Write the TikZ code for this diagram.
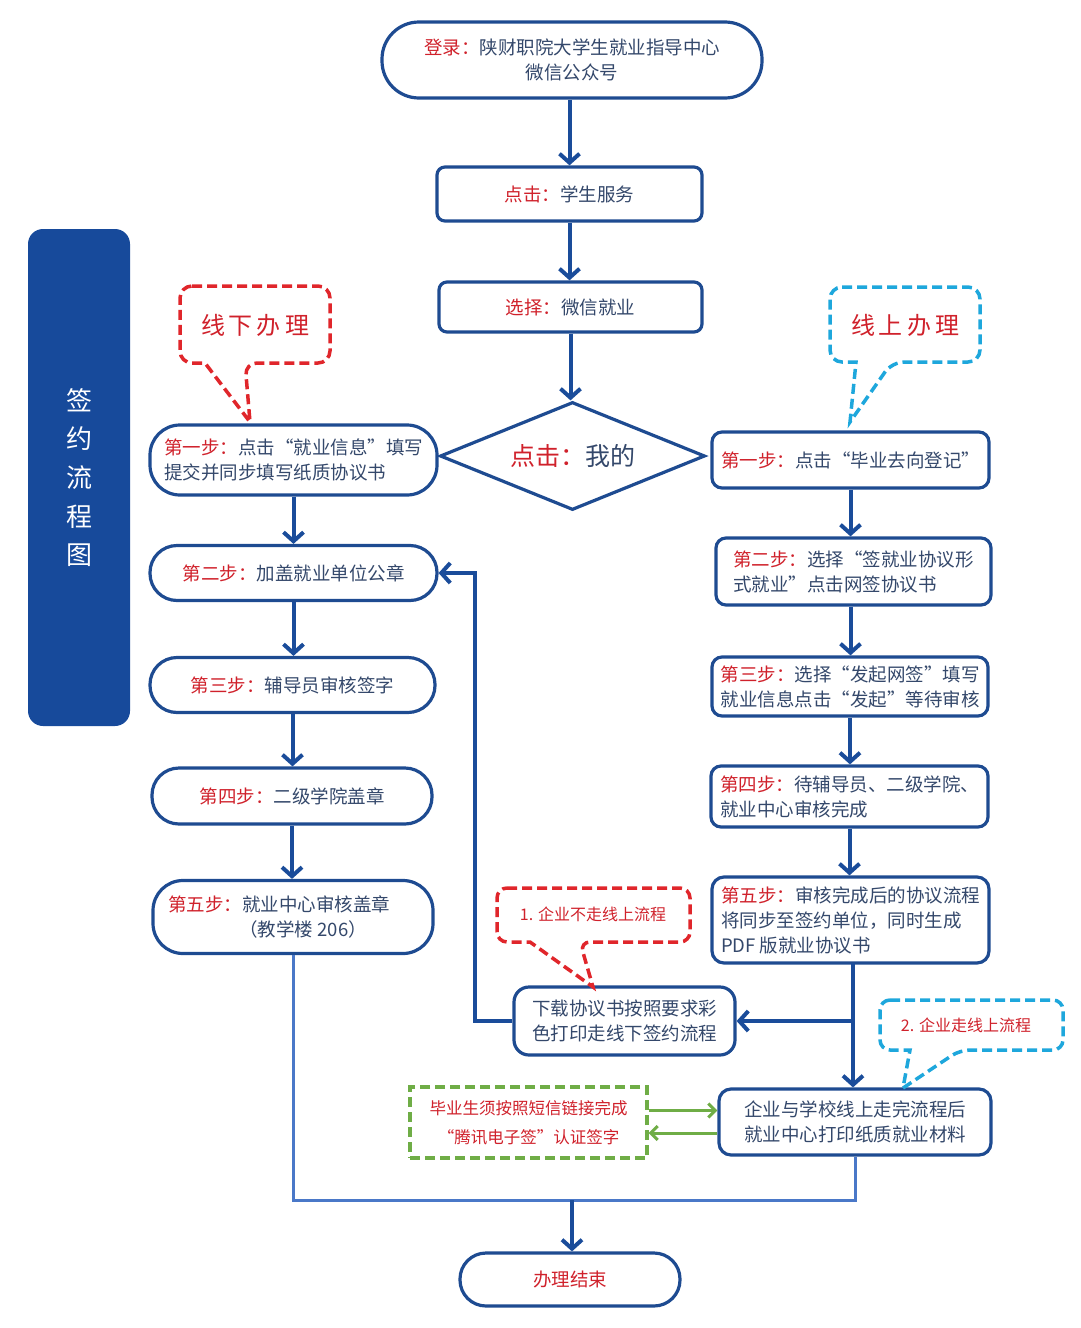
\documentclass[tikz,border=0pt]{standalone}
\usepackage{fontspec}
\setmainfont{Noto Sans CJK SC}
\usetikzlibrary{shapes.geometric,arrows.meta}
\definecolor{boxblue}{HTML}{1E4B91}
\definecolor{arrblue}{HTML}{1A4C9A}
\definecolor{lineblue}{HTML}{4A78C8}
\definecolor{sideblue}{HTML}{174A9B}
\definecolor{tred}{HTML}{D0212B}
\definecolor{tdark}{HTML}{34486B}
\definecolor{dashred}{HTML}{E0262B}
\definecolor{dashcyan}{HTML}{1EA7DC}
\definecolor{dgreen}{HTML}{6FAD46}
\newcommand\R[1]{\textcolor{tred}{#1}}
\begin{document}
\begin{tikzpicture}[x=1pt,y=-1pt,
  box/.style={draw=boxblue, line width=3.2pt, fill=white, text=tdark, inner sep=0pt,
    align=center, font=\fontsize{18.5}{25}\selectfont},
  lbox/.style={box, align=left},
  arr/.style={draw=arrblue, line width=4pt, -{Straight Barb[length=9pt,width=20pt]}},
  garr/.style={draw=dgreen, line width=3pt, -{Straight Barb[length=7pt,width=14pt]}},
  collect/.style={draw=lineblue, line width=3pt},
  callred/.style={draw=dashred, line width=3.5pt, dash pattern=on 10pt off 5pt, fill=white},
  callcyan/.style={draw=dashcyan, line width=3.5pt, dash pattern=on 10pt off 5pt, fill=white},
  calltext/.style={text=tred, inner sep=0pt}
]
\useasboundingbox (0,0) rectangle (1080,1328);

% side bar
\node[fill=sideblue, rounded corners=15pt, minimum width=102pt, minimum height=497pt,
  text=white, align=center, inner sep=0pt, font=\fontsize{26}{38.7}\selectfont]
  (side) at (79,477.5) {签\\约\\流\\程\\图};

% central column
\node[box, minimum width=380pt, minimum height=76pt, rounded corners=37pt] (top) at (572,60)
  {\R{登录：}陕财职院大学生就业指导中心\\微信公众号};
\node[box, minimum width=265pt, minimum height=54pt, rounded corners=8pt] (s1) at (569.5,194)
  {\R{点击：}学生服务};
\node[box, minimum width=263pt, minimum height=50pt, rounded corners=8pt] (s2) at (570.5,307)
  {\R{选择：}微信就业};
\node[box, diamond, aspect=2.45, minimum width=265pt, minimum height=108pt,
  font=\fontsize{25}{30}\selectfont] (dia) at (572.5,456) {\R{点击：}我的};

% left column
\node[lbox, minimum width=287pt, minimum height=70pt, rounded corners=30pt] (L1) at (293.5,460)
  {\R{第一步：}点击“就业信息”填写\\提交并同步填写纸质协议书};
\node[box, minimum width=287pt, minimum height=55pt, rounded corners=27pt] (L2) at (293.5,573)
  {\R{第二步：}加盖就业单位公章};
\node[box, minimum width=285pt, minimum height=55pt, rounded corners=27pt] (L3) at (292.5,685)
  {\R{第三步：}辅导员审核签字};
\node[box, minimum width=280pt, minimum height=56pt, rounded corners=27pt] (L4) at (292,796)
  {\R{第四步：}二级学院盖章};
\node[lbox, minimum width=280pt, minimum height=73pt, rounded corners=30pt] (L5) at (293,917)
  {\R{第五步：}就业中心审核盖章\hspace*{1.5em}\\\hspace*{3.85em}（教学楼 206）};

% right column
\node[lbox, minimum width=277pt, minimum height=56pt, rounded corners=10pt] (R1) at (850.5,460)
  {\R{第一步：}点击“毕业去向登记”};
\node[lbox, minimum width=275pt, minimum height=67pt, rounded corners=10pt] (R2) at (853.5,571.5)
  {\R{第二步：}选择“签就业协议形\\式就业”点击网签协议书};
\node[lbox, minimum width=276pt, minimum height=59pt, rounded corners=10pt] (R3) at (850,686.5)
  {\R{第三步：}选择“发起网签”填写\\就业信息点击“发起”等待审核};
\node[lbox, minimum width=277pt, minimum height=61pt, rounded corners=10pt] (R4) at (849.5,796.5)
  {\R{第四步：}待辅导员、二级学院、\\就业中心审核完成};
\node[lbox, minimum width=277pt, minimum height=86pt, rounded corners=12pt] (R5) at (850.5,920)
  {\R{第五步：}审核完成后的协议流程\\将同步至签约单位，同时生成\\PDF 版就业协议书};

\node[box, minimum width=221pt, minimum height=68pt, rounded corners=15pt] (DL) at (624.5,1021)
  {下载协议书按照要求彩\\色打印走线下签约流程};
\node[box, minimum width=272pt, minimum height=66pt, rounded corners=12pt] (ON) at (855,1122)
  {企业与学校线上走完流程后\\就业中心打印纸质就业材料};
\node[draw=dgreen, line width=3.2pt, dash pattern=on 10pt off 5pt, fill=white, text=tred,
  minimum width=237pt, minimum height=71pt, align=center, inner sep=0pt,
  font=\fontsize{16.5}{29}\selectfont] (GR) at (528.5,1122.5)
  {毕业生须按照短信链接完成\\“腾讯电子签”认证签字};
\node[box, minimum width=220pt, minimum height=53pt, rounded corners=26pt, text=tred] (END) at (570,1279.5)
  {办理结束};

% connectors
\draw[arr] (top.south -| s1.north) -- (s1.north);
\draw[arr] (s1.south) -- (s1.south |- s2.north);
\draw[arr] (s2.south) -- (s2.south |- dia.north);
\draw[arr] (L1.south) -- (L1.south |- L2.north);
\draw[arr] (L2.south) -- (L2.south |- L3.north);
\draw[arr] (L3.south) -- (L3.south |- L4.north);
\draw[arr] (L4.south) -- (L4.south |- L5.north);
\draw[arr] (R1.south) -- (R1.south |- R2.north);
\draw[arr] (R2.south -| R1.south) -- (R1.south |- R3.north);
\draw[arr] (R3.south) -- (R3.south |- R4.north);
\draw[arr] (R4.south) -- (R4.south |- R5.north);
\coordinate (rx) at (853,963);
\draw[arr] (rx) -- (rx |- ON.north);
\coordinate (br) at (rx |- DL.east);
\draw[arr] (br) -- (DL.east);
\coordinate (lx) at (475,1021);
\draw[arr] (DL.west) -- (lx) |- (L2.east);
\coordinate (bot) at (572,1200);
\draw[collect] (L5.south) |- (ON.south |- bot) -- (ON.south);
\draw[arr] (bot) -- (bot |- END.north);
\draw[garr] ([yshift=12pt]GR.east) -- ([yshift=12pt]GR.east -| ON.west);
\draw[garr] ([yshift=-11pt]ON.west) -- ([yshift=-11pt]ON.west -| GR.east);

% callouts
\draw[callred] (180,286) [rounded corners=12pt] -- (330,286) -- (330,363) -- (245,363)
  [sharp corners] -- (250,422) -- (205,363) [rounded corners=12pt] -- (180,363) -- cycle;
\node[calltext, font=\fontsize{24}{28}\selectfont] (cA) at (255,325) {线\,下\,办\,理};

\draw[callcyan] (830,287) [rounded corners=12pt] -- (980,287) -- (980,362) -- (892,362)
  [sharp corners] -- (850,422) -- (856,362) [rounded corners=12pt] -- (830,362) -- cycle;
\node[calltext, font=\fontsize{24}{28}\selectfont] (cB) at (905,325) {线\,上\,办\,理};

\draw[callred] (497,888) [rounded corners=10pt] -- (690,888) -- (690,942) -- (580,942)
  [sharp corners] -- (593,987) -- (530,942) [rounded corners=10pt] -- (497,942) -- cycle;
\node[calltext, font=\fontsize{16}{20}\selectfont] (cC) at (593,914) {1. 企业不走线上流程};

\draw[callcyan] (880,1000) [rounded corners=10pt] -- (1063,1000) -- (1063,1050) -- (960,1050)
  [sharp corners] -- (903,1088) -- (910,1050) [rounded corners=10pt] -- (880,1050) -- cycle;
\node[calltext, font=\fontsize{16}{20}\selectfont] (cD) at (966,1025) {2. 企业走线上流程};
\end{tikzpicture}
\end{document}
